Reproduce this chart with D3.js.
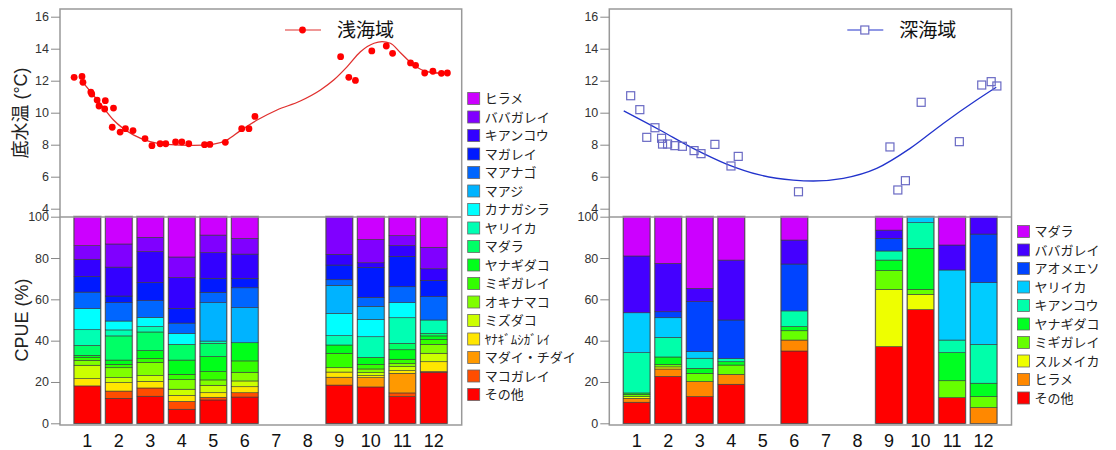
<!DOCTYPE html>
<html lang="ja">
<head>
<meta charset="UTF-8">
<title>底水温とCPUE組成</title>
<script src="https://d3js.org/d3.v7.min.js"></script>
<style>
  body { margin: 0; background: #fff; }
  text { font-family: Arial, "Liberation Sans", "Noto Sans CJK JP", sans-serif; }
</style>
</head>
<body>
<script>
// ---- data ----
const months = [1, 2, 3, 4, 5, 6, 7, 8, 9, 10, 11, 12];

// 浅海域: 底水温の観測値 (月の小数位置, °C)
const shallowTempMonth = [0.58, 0.83, 0.86, 1.11, 1.14, 1.31, 1.37, 1.57, 1.55, 1.83, 1.79, 2.04, 2.21, 2.45, 2.83,
  3.05, 3.31, 3.49, 3.80, 4.00, 4.22, 4.72, 4.89, 5.38, 5.90, 6.13, 6.32,
  9.04, 9.30, 9.51, 10.03, 10.49, 10.69, 11.26, 11.42, 11.71, 11.97, 12.24, 12.43];
const shallowTempValue = [12.21, 12.27, 11.9, 11.29, 11.17, 10.79, 10.42, 10.75, 10.23, 10.29, 9.09, 8.79, 9.0, 8.88, 8.38,
  7.94, 8.06, 8.06, 8.17, 8.17, 8.06, 8.0, 8.02, 8.15, 9.0, 9.0, 9.77,
  13.5, 12.21, 12.02, 13.86, 14.17, 13.71, 13.11, 12.96, 12.48, 12.59, 12.46, 12.48];
// 浅海域: 平滑化曲線
const shallowFitMonth = [0.86, 1.40, 1.83, 2.46, 2.99, 3.52, 4.37, 5.01, 5.43, 5.86, 6.39, 7.02, 7.76, 8.40, 8.82,
  9.25, 9.67, 10.10, 10.36, 10.62, 10.94, 11.36, 11.79, 12.43];
const shallowFitValue = [11.9, 10.59, 9.54, 8.61, 8.19, 8.02, 7.96, 8.04, 8.29, 8.88, 9.54, 10.17, 10.73, 11.42, 12.04,
  12.88, 13.81, 14.34, 14.44, 14.34, 13.75, 12.98, 12.56, 12.44];

// 深海域: 底水温の観測値
const deepTempMonth = [0.81, 1.10, 1.32, 1.58, 1.79, 1.82, 1.98, 2.21, 2.45, 2.82, 3.04, 3.48, 3.99, 4.22, 6.13,
  9.03, 9.28, 9.52, 10.02, 11.23, 11.94, 12.24, 12.42];
const deepTempValue = [11.06, 10.19, 8.46, 9.06, 8.4, 8.04, 8.04, 7.94, 7.9, 7.63, 7.44, 8.02, 6.67, 7.27, 5.06,
  7.86, 5.17, 5.75, 10.65, 8.19, 11.73, 11.94, 11.67];
// 深海域: 平滑化曲線
const deepFitMonth = [0.59, 1.73, 2.79, 3.85, 4.90, 5.96, 6.60, 7.55, 8.61, 9.67, 10.72, 11.78, 12.40];
const deepFitValue = [10.11, 8.92, 7.77, 6.79, 6.11, 5.79, 5.73, 5.90, 6.52, 7.77, 9.33, 10.79, 11.59];

// 浅海域 CPUE組成 (%) 下から順、null = 調査なし
const shallowSpecies = ["その他", "マコガレイ", "マダイ・チダイ", "ﾔﾅｷﾞﾑｼｶﾞﾚｲ", "ミズダコ", "オキナマコ", "ミギガレイ",
  "ヤナギダコ", "マダラ", "ヤリイカ", "カナガシラ", "マアジ", "マアナゴ", "マガレイ", "キアンコウ", "ババガレイ", "ヒラメ"];
const shallowPct = [
  [18.1, 12.1, 13.1, 6.8, 11.3, 12.7, null, null, 18.5, 17.6, 12.9, 24.7], // その他
  [0, 3.5, 4.0, 3.8, 1.3, 2.1, null, null, 0, 0, 1.8, 0.3],                 // マコガレイ
  [0, 0, 0, 0, 0, 0, null, null, 3.8, 4.5, 9.5, 0],                         // マダイ・チダイ
  [3.5, 4.1, 3.2, 2.9, 2.2, 2.9, null, null, 2.5, 1.0, 1.3, 4.8],           // ヤナギムシガレイ
  [6.5, 2.4, 2.8, 3.0, 3.6, 2.8, null, null, 2.1, 1.4, 1.9, 4.1],           // ミズダコ
  [2.4, 4.8, 6.4, 4.6, 2.6, 4.2, null, null, 0, 1.8, 1.5, 4.3],             // オキナマコ
  [1.3, 1.6, 1.8, 2.6, 4.0, 5.5, null, null, 7.0, 2.2, 2.1, 2.4],           // ミギガレイ
  [1.1, 2.1, 3.9, 6.9, 7.3, 8.8, null, null, 4.0, 3.4, 4.6, 1.7],           // ヤナギダコ
  [4.8, 11.7, 9.0, 7.6, 6.4, 0, null, null, 0, 0, 3.1, 1.2],                // マダラ
  [7.6, 2.9, 2.6, 0, 1.1, 0, null, null, 4.5, 10.0, 12.4, 6.5],             // ヤリイカ
  [10.2, 4.3, 4.5, 5.3, 0, 0, null, null, 10.8, 8.4, 7.3, 0],               // カナガシラ
  [0, 0, 0, 0, 18.6, 17.0, null, null, 13.6, 6.3, 0, 0],                    // マアジ
  [8.0, 8.9, 8.1, 5.0, 5.0, 9.6, null, null, 2.7, 4.4, 7.7, 11.3],          // マアナゴ
  [7.5, 3.2, 8.7, 7.1, 6.8, 4.6, null, null, 7.1, 14.5, 14.7, 7.9],         // マガレイ
  [8.4, 14.0, 15.0, 14.9, 12.4, 11.7, null, null, 5.2, 2.2, 5.2, 5.6],      // キアンコウ
  [6.6, 11.2, 6.9, 10.0, 8.5, 7.6, null, null, 18.2, 11.3, 4.8, 10.4],      // ババガレイ
  [14.0, 13.2, 10.0, 19.5, 8.9, 10.5, null, null, 0, 11.0, 9.2, 14.8]       // ヒラメ
];

// 深海域 CPUE組成 (%)
const deepSpecies = ["その他", "ヒラメ", "スルメイカ", "ミギガレイ", "ヤナギダコ", "キアンコウ", "ヤリイカ",
  "アオメエソ", "ババガレイ", "マダラ"];
const deepPct = [
  [10.2, 22.7, 12.9, 18.9, null, 35.0, null, null, 37.1, 55.0, 12.4, 0],   // その他
  [1.9, 3.6, 7.3, 4.8, null, 5.3, null, null, 0, 0, 0, 7.6],               // ヒラメ
  [0.8, 1.0, 0, 0, null, 0, null, null, 27.7, 7.4, 0, 0],                  // スルメイカ
  [1.1, 1.1, 4.0, 4.5, null, 4.5, null, null, 9.1, 2.4, 8.2, 5.3],         // ミギガレイ
  [0.7, 3.7, 2.4, 1.6, null, 2.0, null, null, 5.1, 19.9, 13.6, 6.5],       // ヤナギダコ
  [19.5, 9.5, 4.9, 1.5, null, 7.6, null, null, 4.4, 12.4, 6.1, 18.8],      // キアンコウ
  [19.3, 9.5, 3.2, 0, null, 0, null, null, 0, 2.9, 33.9, 29.9],            // ヤリイカ
  [0, 2.9, 24.2, 18.7, null, 22.7, null, null, 6.1, 0, 0, 23.5],           // アオメエソ
  [27.5, 23.4, 6.4, 29.0, null, 11.6, null, null, 4.0, 0, 12.1, 8.4],      // ババガレイ
  [19.0, 22.6, 34.7, 21.0, null, 11.3, null, null, 6.5, 0, 13.7, 0]        // マダラ
];

const tempTicks = [4, 6, 8, 10, 12, 14, 16];
const pctTicks = [0, 20, 40, 60, 80, 100];

// ---- canvas ----
const W = 1116, H = 450;
const svg = d3.select("body").append("svg")
  .attr("width", W)
  .attr("height", H);

// レインボー配色 (R の rainbow に近い)
const rainbow = (n, step) => d3.range(n).map(i => d3.hsl(i * step, 1, 0.5).formatHex());

function drawPanel(p) {
  const g = svg.append("g");

  // スケール
  const xBand = d3.scaleBand().domain(months).range([p.x0 + 11.6, p.x1 - 12.1]).paddingInner(0.16).paddingOuter(0.08);
  const step = xBand.step();
  const xMonth = d3.scaleLinear().domain([1, 12])
    .range([xBand(1) + xBand.bandwidth() / 2, xBand(12) + xBand.bandwidth() / 2]);
  const yT = d3.scaleLinear().domain([4, 16]).range([208.7, 16.7]);
  const yP = d3.scaleLinear().domain([0, 100]).range([423.3, 216.7]);

  // 積み上げ棒
  const rows = months.map((m, j) => {
    const r = { month: m, has: p.pct[0][j] !== null };
    p.species.forEach((s, k) => r[s] = p.pct[k][j] || 0);
    return r;
  }).filter(r => r.has);
  const stacked = d3.stack().keys(p.species)(rows);

  const bars = g.append("g");
  bars.selectAll("rect.outer")
    .data(rows)
    .join("rect")
    .attr("class", "outer")
    .attr("x", d => xBand(d.month))
    .attr("y", yP(100))
    .attr("width", xBand.bandwidth())
    .attr("height", yP(0) - yP(100))
    .attr("fill", "none")
    .attr("stroke", "#9a9a9a")
    .attr("stroke-width", 2);

  stacked.forEach((layer, k) => {
    bars.append("g")
      .selectAll("rect")
      .data(layer.filter(d => d[1] - d[0] > 0))
      .join("rect")
      .attr("x", d => xBand(d.data.month))
      .attr("y", d => yP(d[1]))
      .attr("width", xBand.bandwidth())
      .attr("height", d => yP(d[0]) - yP(d[1]))
      .attr("fill", p.colors[k])
      .attr("stroke", "#3a3a3a")
      .attr("stroke-width", 0.6);
  });

  // 枠
  g.append("rect")
    .attr("x", p.x0).attr("y", 9)
    .attr("width", p.x1 - p.x0).attr("height", 425 - 9)
    .attr("fill", "none").attr("stroke", "#999").attr("stroke-width", 1.5);
  g.append("line")
    .attr("x1", p.x0).attr("x2", p.x1)
    .attr("y1", 217).attr("y2", 217)
    .attr("stroke", "#999").attr("stroke-width", 1.5);

  // 軸
  const axT = g.append("g")
    .attr("transform", `translate(${p.x0},0)`)
    .call(d3.axisLeft(yT).tickValues(tempTicks).tickSize(9).tickPadding(2));
  const axP = g.append("g")
    .attr("transform", `translate(${p.x0},0)`)
    .call(d3.axisLeft(yP).tickValues(pctTicks).tickSize(9).tickPadding(2));
  [axT, axP].forEach(ax => {
    ax.select(".domain").remove();
    ax.selectAll(".tick line").attr("stroke", "#888");
    ax.selectAll(".tick text").attr("fill", "#333").style("font-size", "12.5px")
      .style("font-family", "Arial, 'Liberation Sans', sans-serif");
  });

  // 月ラベル
  g.append("g").selectAll("text")
    .data(months)
    .join("text")
    .attr("x", d => xBand(d) + xBand.bandwidth() / 2)
    .attr("y", 447)
    .attr("text-anchor", "middle")
    .attr("fill", "#111")
    .style("font-size", "18px")
    .text(d => d);

  // 平滑化曲線
  const line = d3.line()
    .x(d => xMonth(d[0]))
    .y(d => yT(d[1]))
    .curve(d3.curveMonotoneX);
  g.append("path")
    .datum(d3.zip(p.fitMonth, p.fitValue))
    .attr("d", line)
    .attr("fill", "none")
    .attr("stroke", p.lineColor)
    .attr("stroke-width", 1.3);

  // 観測点
  const pts = d3.zip(p.tempMonth, p.tempValue);
  if (p.marker === "dot") {
    g.append("g").selectAll("circle")
      .data(pts)
      .join("circle")
      .attr("cx", d => xMonth(d[0]))
      .attr("cy", d => yT(d[1]))
      .attr("r", 3.4)
      .attr("fill", "#ff0000");
  } else {
    g.append("g").selectAll("rect")
      .data(pts)
      .join("rect")
      .attr("x", d => xMonth(d[0]) - 4)
      .attr("y", d => yT(d[1]) - 4)
      .attr("width", 8).attr("height", 8)
      .attr("fill", "none")
      .attr("stroke", "#6a6ac4")
      .attr("stroke-width", 1.2);
  }

  // 上段の凡例
  const lg = g.append("g").attr("transform", `translate(${p.x0 + p.legendDx},30)`);
  lg.append("line").attr("x1", 0).attr("x2", 36).attr("y1", 0).attr("y2", 0)
    .attr("stroke", p.lineColor).attr("stroke-width", 1.1);
  if (p.marker === "dot") {
    lg.append("circle").attr("cx", 17.5).attr("cy", 0).attr("r", 3.4).attr("fill", "#ff0000");
  } else {
    lg.append("rect").attr("x", 13.5).attr("y", -4).attr("width", 8).attr("height", 8)
      .attr("fill", "#fff").attr("stroke", "#6a6ac4").attr("stroke-width", 1.2);
  }
  lg.append("text").attr("x", 52).attr("y", 0).attr("dy", "0.36em")
    .attr("fill", "#111").style("font-size", "19px").text(p.title);

  // 種の凡例 (上から ヒラメ … その他)
  const items = p.species.map((s, k) => ({ name: s, color: p.colors[k] })).reverse();
  const leg = g.append("g").attr("transform", `translate(${p.x1 + 6},${p.legendY})`);
  const it = leg.selectAll("g")
    .data(items)
    .join("g")
    .attr("transform", (d, i) => `translate(0,${i * 18.5})`);
  it.append("rect")
    .attr("x", 0).attr("y", -6)
    .attr("width", 12).attr("height", 12)
    .attr("fill", d => d.color)
    .attr("stroke", "#666").attr("stroke-width", 0.8);
  it.append("text")
    .attr("x", 17).attr("y", 0).attr("dy", "0.36em")
    .attr("fill", "#222")
    .style("font-size", "13px")
    .text(d => d.name);
}

drawPanel({
  x0: 60, x1: 461.7, title: "浅海域", legendDx: 225,
  species: shallowSpecies, pct: shallowPct, colors: rainbow(17, 18),
  tempMonth: shallowTempMonth, tempValue: shallowTempValue,
  fitMonth: shallowFitMonth, fitValue: shallowFitValue,
  marker: "dot", lineColor: "#e0302e", legendY: 98.5
});
drawPanel({
  x0: 609.3, x1: 1011.5, title: "深海域", legendDx: 238,
  species: deepSpecies, pct: deepPct, colors: rainbow(10, 32),
  tempMonth: deepTempMonth, tempValue: deepTempValue,
  fitMonth: deepFitMonth, fitValue: deepFitValue,
  marker: "square", lineColor: "#2233cc", legendY: 231.5
});

// 縦軸タイトル
svg.append("text")
  .attr("transform", "translate(21,113) rotate(-90)")
  .attr("text-anchor", "middle").attr("dy", "0.36em")
  .attr("fill", "#222").style("font-size", "18px")
  .text("底水温 (°C)");
svg.append("text")
  .attr("transform", "translate(22,320) rotate(-90)")
  .attr("text-anchor", "middle").attr("dy", "0.36em")
  .attr("fill", "#222").style("font-size", "18px")
  .text("CPUE (%)");
</script>
</body>
</html>
